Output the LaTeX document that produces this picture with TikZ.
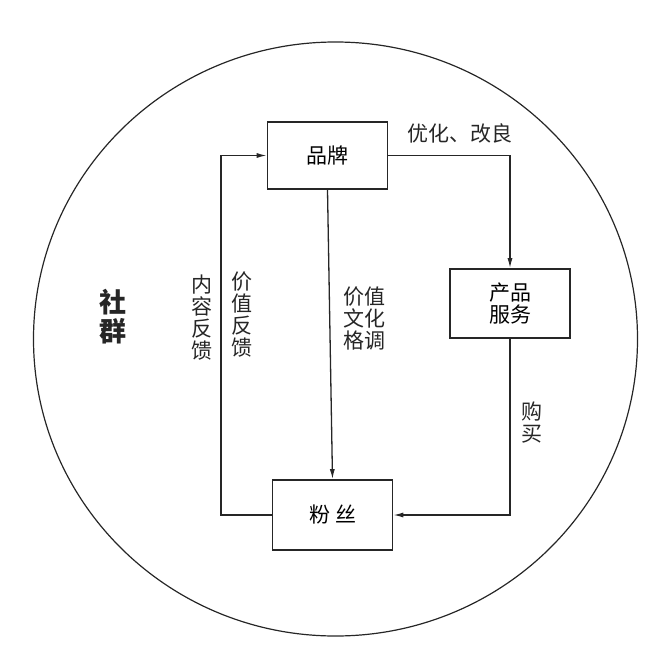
\documentclass[tikz,border=0pt]{standalone}
\usepackage{fontspec}
\setmainfont{Noto Sans CJK SC}
\usetikzlibrary{arrows.meta}
\definecolor{ink}{HTML}{262626}
\begin{document}
\begin{tikzpicture}[x=1pt,y=-1pt,
    box/.style={draw=ink,line width=1.6pt,minimum width=120pt,minimum height=67pt,inner sep=0pt,align=center,font=\fontsize{21}{22}\selectfont},
    flow/.style={draw=ink,line width=1.3pt,-{Latex[length=10pt,width=5pt]}},
    lbl/.style={text=ink,align=center,inner sep=0pt,font=\fontsize{21}{22}\selectfont}]
    \useasboundingbox (0,0) rectangle (660,664);

    % Community circle
    \draw[ink,line width=1.2pt] (335.5,339) circle [x radius=302, y radius=297];
    \node[lbl,font=\bfseries\fontsize{27}{29}\selectfont] (community) at (113,317) {社\\群};

    % Boxes
    \node[box] (brand) at (327.5,155.5) {品牌};
    \node[box,minimum height=69pt] (service) at (510,303.5) {产品\\服务};
    \node[box,minimum height=70pt] (fans) at (332.5,515) {粉\hspace{5pt}丝};
    \coordinate (back) at (221,515);

    % Connectors
    \draw[flow] (brand.east) -| (service.north);
    \draw[flow] (service.south) |- (fans.east);
    \draw[flow] (brand.south) -- (fans.north);
    \draw[flow] (fans.west) -- (back) |- (brand.west);

    % Labels
    \node[lbl] (improve) at (460,133) {优化、改良};
    \node[lbl] (content) at (202,317.5) {内\\容\\反\\馈};
    \node[lbl] (feedback) at (242,315) {价\\值\\反\\馈};
    \node[lbl] (culture) at (364,319) {价值\\文化\\格调};
    \node[lbl] (buy) at (532,423) {购\\买};
\end{tikzpicture}
\end{document}
